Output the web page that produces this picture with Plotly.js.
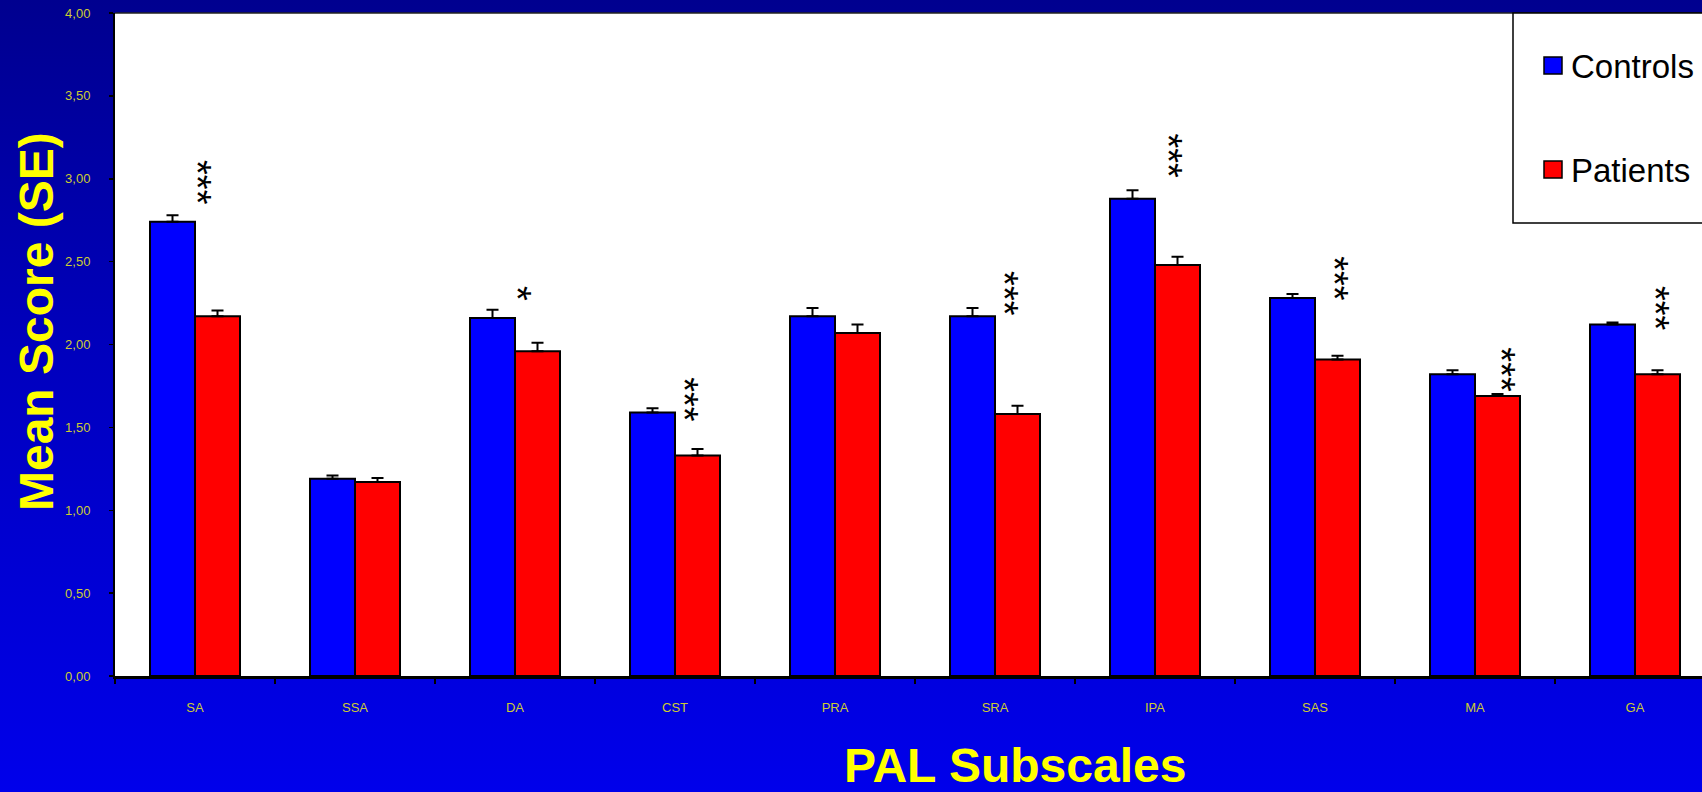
<!DOCTYPE html>
<html>
<head>
<meta charset="utf-8">
<script src="https://cdn.plot.ly/plotly-3.0.1.min.js"></script>
<style>
  html, body { margin: 0; padding: 0; }
  body { width: 1702px; height: 792px; overflow: hidden;
         background: linear-gradient(to bottom, #00008F 0%, #0000BE 45%, #0000EB 100%); }
  #chart { width: 1702px; height: 792px; }
</style>
</head>
<body>
<div id="chart"></div>
<script>
// ---- data ----
const categories   = ['SA', 'SSA', 'DA', 'CST', 'PRA', 'SRA', 'IPA', 'SAS', 'MA', 'GA'];
const seriesNames  = ['Controls', 'Patients'];
const controlsMean = [2.74, 1.19, 2.16, 1.59, 2.17, 2.17, 2.88, 2.28, 1.82, 2.12];
const controlsSE   = [0.04, 0.02, 0.05, 0.025, 0.05, 0.05, 0.05, 0.025, 0.025, 0.012];
const patientsMean = [2.17, 1.17, 1.96, 1.33, 2.07, 1.58, 2.48, 1.91, 1.69, 1.82];
const patientsSE   = [0.035, 0.025, 0.05, 0.04, 0.05, 0.05, 0.05, 0.022, 0.012, 0.025];
const significance = ['***', '', '*', '***', '', '***', '***', '***', '***', '***'];
const yTickVals    = [0, 0.5, 1, 1.5, 2, 2.5, 3, 3.5, 4];
const xTitle = 'PAL Subscales';
const yTitle = 'Mean Score (SE)';

// ---- layout helpers (positions / styles) ----
const sigY     = [2.98, null, 2.31, 1.67, null, 2.31, 3.14, 2.40, 1.85, 2.22];
const sigShift = [2, 0, 2, 9, 0, 9, 13, 19, 26, 20];
const L = 115, T = 13, W = 1587, H = 663;
const px = x => (x - L) / W;
const py = y => (T + H - y) / H;
const FONT = 'Arial, "Liberation Sans", sans-serif';
const tickColor = '#CCCC33';
const zeros = categories.map(() => 0);

const traces = [
  { type: 'bar', name: seriesNames[0], x: categories, y: controlsMean,
    marker: { color: '#0000FF', line: { color: '#000000', width: 2 } },
    error_y: { type: 'data', symmetric: false, array: controlsSE, arrayminus: zeros,
               color: '#000000', thickness: 2, width: 6 },
    showlegend: false, hoverinfo: 'skip' },
  { type: 'bar', name: seriesNames[1], x: categories, y: patientsMean,
    marker: { color: '#FF0000', line: { color: '#000000', width: 2 } },
    error_y: { type: 'data', symmetric: false, array: patientsSE, arrayminus: zeros,
               color: '#000000', thickness: 2, width: 6 },
    showlegend: false, hoverinfo: 'skip' }
];

const annotations = [];
significance.forEach((s, i) => {
  if (!s) return;
  annotations.push({ x: categories[i], y: sigY[i], xref: 'x', yref: 'y',
    text: s, textangle: 90, showarrow: false, xshift: sigShift[i],
    xanchor: 'center', yanchor: 'middle',
    font: { family: FONT, size: 38, color: '#000000' } });
});
annotations.push({ xref: 'paper', yref: 'paper', x: px(36), y: py(322),
  text: '<b>' + yTitle + '</b>', textangle: -90, showarrow: false,
  xanchor: 'center', yanchor: 'middle',
  font: { family: FONT, size: 48, color: '#FFFF00' } });
annotations.push({ xref: 'paper', yref: 'paper', x: px(1015), y: py(765),
  text: '<b>' + xTitle + '</b>', showarrow: false,
  xanchor: 'center', yanchor: 'middle',
  font: { family: FONT, size: 48, color: '#FFFF00' } });

// legend (drawn manually)
const legendColors = ['#0000FF', '#FF0000'];
const legendRows = [65.5, 169.5];
const shapes = [
  { type: 'line', xref: 'paper', yref: 'paper', x0: 0, x1: 1, y0: 1, y1: 1,
    line: { color: '#222222', width: 1.5 } },
  { type: 'rect', xref: 'paper', yref: 'paper', x0: px(1513), x1: px(1760), y0: py(223), y1: py(13),
    fillcolor: '#FFFFFF', line: { color: '#000000', width: 1.5 }, layer: 'above' }
];
seriesNames.forEach((n, i) => {
  shapes.push({ type: 'rect', xref: 'paper', yref: 'paper',
    x0: px(1544), x1: px(1562), y0: py(legendRows[i] + 8.5), y1: py(legendRows[i] - 8.5),
    fillcolor: legendColors[i], line: { color: '#000000', width: 1.5 }, layer: 'above' });
  annotations.push({ xref: 'paper', yref: 'paper', x: px(1569), y: py(legendRows[i] + 1),
    text: n, showarrow: false, xanchor: 'left', yanchor: 'middle',
    font: { family: FONT, size: 33, color: '#000000' } });
});

const layout = {
  width: 1702, height: 792,
  margin: { l: L, r: 1702 - L - W, t: T, b: 792 - T - H, pad: 0 },
  paper_bgcolor: 'rgba(0,0,0,0)',
  plot_bgcolor: '#FFFFFF',
  separators: ',.',
  barmode: 'group', bargap: 0.4375, bargroupgap: 0,
  showlegend: false,
  font: { family: FONT },
  xaxis: {
    type: 'category', range: [-0.5, -0.5 + W / 160],
    showline: true, linecolor: '#000000', linewidth: 3,
    ticks: 'outside', tickson: 'boundaries', ticklen: 5, tickwidth: 2, tickcolor: '#000000',
    tickfont: { family: FONT, size: 13, color: tickColor },
    ticklabelstandoff: 17, showgrid: false, zeroline: false, fixedrange: true
  },
  yaxis: {
    range: [0, 4], tickvals: yTickVals, tickformat: '.2f',
    showline: true, linecolor: '#000000', linewidth: 2,
    ticks: 'outside', ticklen: 4, tickwidth: 1.5, tickcolor: '#000000',
    tickfont: { family: FONT, size: 13, color: tickColor },
    ticklabelstandoff: 16, showgrid: false, zeroline: false, fixedrange: true
  },
  annotations: annotations,
  shapes: shapes
};

Plotly.newPlot('chart', traces, layout, { staticPlot: true, displayModeBar: false });
</script>
</body>
</html>
